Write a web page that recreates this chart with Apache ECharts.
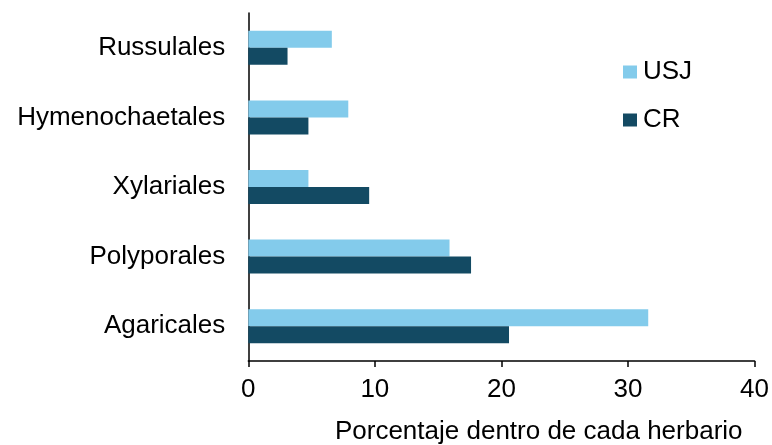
<!DOCTYPE html>
<html>
<head>
<meta charset="utf-8">
<script src="https://cdn.jsdelivr.net/npm/echarts@6/dist/echarts.min.js"></script>
<style>
html,body{margin:0;padding:0;background:#fff;}
#chart{width:772px;height:445px;}
</style>
</head>
<body>
<div id="chart"></div>
<script>
// Orders, listed bottom to top on the category axis
const categories = ['Agaricales', 'Polyporales', 'Xylariales', 'Hymenochaetales', 'Russulales'];
// Percentage of records within each herbarium
const usjValues = [31.6, 15.9, 4.75, 7.9, 6.6];
const crValues = [20.6, 17.6, 9.55, 4.75, 3.1];
const xTicks = [0, 10, 20, 30, 40];

const font = 'Liberation Sans, Arial, sans-serif';
const chart = echarts.init(document.getElementById('chart'), null, {renderer: 'canvas'});

chart.setOption({
  animation: false,
  backgroundColor: '#ffffff',
  grid: {left: 248.3, right: 16.7, top: 13, bottom: 82.7, containLabel: false},
  legend: {
    data: ['USJ', 'CR'],
    orient: 'vertical',
    left: 618,
    top: 54,
    itemWidth: 14,
    itemHeight: 13,
    itemGap: 22,
    icon: 'rect',
    textStyle: {fontFamily: font, fontSize: 26, color: '#000', padding: [0, 0, 0, 1]}
  },
  xAxis: {
    type: 'value',
    min: xTicks[0],
    max: xTicks[xTicks.length - 1],
    interval: 10,
    name: 'Porcentaje dentro de cada herbario',
    nameLocation: 'end',
    nameGap: 0,
    nameTextStyle: {
      fontFamily: font, fontSize: 26, color: '#000',
      align: 'right', verticalAlign: 'top', padding: [58, 12, 0, 0]
    },
    axisLine: {show: true, lineStyle: {color: '#000', width: 1.5}},
    axisTick: {show: true, length: 6, lineStyle: {color: '#000', width: 1.5}},
    axisLabel: {fontFamily: font, fontSize: 26, color: '#000', margin: 16},
    splitLine: {show: false}
  },
  yAxis: {
    type: 'category',
    data: categories,
    axisLine: {show: true, lineStyle: {color: '#000', width: 1.5}},
    axisTick: {show: false},
    axisLabel: {fontFamily: font, fontSize: 26, color: '#000', margin: 23}
  },
  series: [
    {
      name: 'USJ',
      type: 'bar',
      data: usjValues,
      barWidth: 17,
      barGap: '0%',
      itemStyle: {color: '#83CBEB'}
    },
    {
      name: 'CR',
      type: 'bar',
      data: crValues,
      barWidth: 17,
      barGap: '0%',
      itemStyle: {color: '#134A63'}
    }
  ]
});
</script>
</body>
</html>
